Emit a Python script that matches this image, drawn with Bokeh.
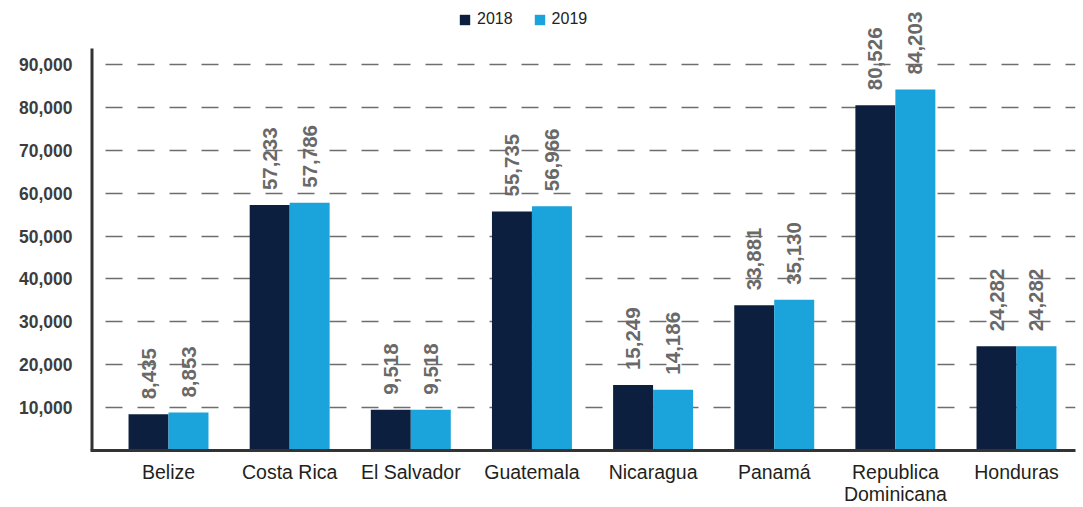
from math import pi
from bokeh.plotting import figure
from bokeh.models import (ColumnDataSource, Range1d, LabelSet, Legend, LegendItem,
                          FixedTicker, NumeralTickFormatter)
from bokeh.core.properties import value
from bokeh.embed import file_html
from bokeh.resources import INLINE

countries = ["Belize", "Costa Rica", "El Salvador", "Guatemala", "Nicaragua",
             "Panamá", "Republica\nDominicana", "Honduras"]
v2018 = [8435, 57233, 9518, 55735, 15249, 33881, 80526, 24282]
v2019 = [8853, 57786, 9518, 56966, 14186, 35130, 84203, 24282]
series_names = ["2018", "2019"]
y_ticks = [10000, 20000, 30000, 40000, 50000, 60000, 70000, 80000, 90000]

C2018 = "#0c1f3f"
C2019 = "#1ba3db"
FONT = "Liberation Sans"
BW = 0.33
Y_TOP = 104930      # top of the plotting frame (room for labels / legend)
AXIS_TOP = 93720    # where the vertical axis line ends

idx = list(range(len(countries)))
x18 = [i - BW / 2 for i in idx]
x19 = [i + BW / 2 for i in idx]

p = figure(width=1083, height=507, output_backend="svg", toolbar_location=None,
           x_range=Range1d(-0.644, 7.487), y_range=Range1d(0, Y_TOP),
           min_border_left=90, min_border_right=8, min_border_top=0,
           min_border_bottom=57)
p.outline_line_color = None
p.background_fill_color = "white"
p.border_fill_color = "white"

r18 = p.vbar(x=x18, top=v2018, bottom=0, width=BW, fill_color=C2018, line_color=None)
r19 = p.vbar(x=x19, top=v2019, bottom=0, width=BW, fill_color=C2019, line_color=None)

# x axis with category names
p.xaxis.ticker = FixedTicker(ticks=idx)
p.xaxis.major_label_overrides = {i: c for i, c in zip(idx, countries)}
p.xaxis.axis_line_width = 3
p.xaxis.axis_line_color = "#333333"
p.xaxis.major_tick_line_color = None
p.xaxis.major_tick_out = 0
p.xaxis.major_tick_in = 0
p.xaxis.minor_tick_line_color = None
p.xaxis.major_label_text_font = FONT
p.xaxis.major_label_text_font_size = "19.5px"
p.xaxis.major_label_text_color = "#231f20"
p.xaxis.major_label_text_line_height = 1.0
p.xaxis.major_label_standoff = 10

# y axis (line drawn separately so it stops at the top gridline area)
p.yaxis.ticker = FixedTicker(ticks=y_ticks)
p.yaxis.formatter = NumeralTickFormatter(format="0,0")
p.yaxis.axis_line_color = None
p.yaxis.major_tick_line_color = None
p.yaxis.major_tick_out = 0
p.yaxis.major_tick_in = 0
p.yaxis.minor_tick_line_color = None
p.yaxis.major_label_text_font = FONT
p.yaxis.major_label_text_font_size = "17.5px"
p.yaxis.major_label_text_font_style = "bold"
p.yaxis.major_label_text_color = "#3d3d3d"
p.yaxis.major_label_standoff = 18
p.segment(x0=[p.x_range.start], y0=[0], x1=[p.x_range.start], y1=[AXIS_TOP],
          line_color="#333333", line_width=6)

p.xgrid.grid_line_color = None
p.ygrid.grid_line_color = "#6e6e6e"
p.ygrid.grid_line_width = 1.5
p.ygrid.grid_line_dash = "17 15"
p.ygrid.grid_line_dash_offset = 17

# value labels
lab_src = ColumnDataSource(dict(x=x18 + x19, y=v2018 + v2019,
                                t=[f"{v:,}" for v in v2018 + v2019]))
p.add_layout(LabelSet(x="x", y="y", text="t", source=lab_src, y_offset=15,
                      angle=pi / 2, text_align="left", text_baseline="middle",
                      text_font=value(FONT), text_font_size=value("20.5px"),
                      text_font_style=value("bold"), text_color=value("#696969")))

legend = Legend(items=[LegendItem(label=series_names[0], renderers=[r18]),
                       LegendItem(label=series_names[1], renderers=[r19])],
                orientation="horizontal", location=(368, 422),
                glyph_width=13, glyph_height=13, label_height=13,
                label_standoff=6, spacing=20, padding=0, margin=0,
                border_line_color=None, background_fill_alpha=0,
                label_text_font=FONT, label_text_font_size="16px",
                label_text_color="#222222")
p.add_layout(legend)

open("out.html", "w").write(file_html(p, INLINE))
